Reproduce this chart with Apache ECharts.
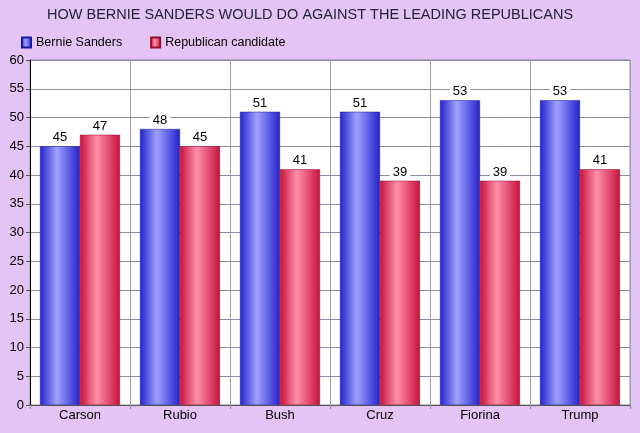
<!DOCTYPE html>
<html><head><meta charset="utf-8">
<script src="https://cdn.jsdelivr.net/npm/echarts@6/dist/echarts.min.js"></script>
<style>html,body{margin:0;padding:0;background:#E4C4F4;}#c{width:640px;height:433px;}</style>
</head><body><div id="c"></div>
<script>
const categories = ['Carson','Rubio','Bush','Cruz','Fiorina','Trump'];
const bernie = [45,48,51,51,53,53];
const republican = [47,45,41,39,39,41];
const yTicks = {min:0,max:60,interval:5};

function grad(dark, light){
  return new echarts.graphic.LinearGradient(0,0,1,0,[
    {offset:0,color:dark},{offset:0.42,color:light},{offset:1,color:dark}
  ]);
}
const chart = echarts.init(document.getElementById('c'));
const lbl = {show:true,position:'top',distance:2,color:'#000',fontFamily:'Arial, Liberation Sans',fontSize:13,backgroundColor:'#fff',padding:[0,3,0,3]};
chart.setOption({
  backgroundColor:'#E4C4F4',
  animation:false,
  title:{text:'HOW BERNIE SANDERS WOULD DO AGAINST THE LEADING REPUBLICANS',left:42,top:2,
    textStyle:{fontFamily:'Arial, Liberation Sans',fontWeight:'normal',fontSize:14.5,color:'#222238'}},
  legend:{left:16,top:31,itemWidth:9,itemHeight:10,itemGap:28,icon:'rect',
    textStyle:{fontFamily:'Arial, Liberation Sans',fontSize:12.5,color:'#000'},
    data:['Bernie Sanders','Republican candidate']},
  grid:{left:30,right:10,top:60,bottom:28,show:true,borderColor:'#8a8aa0',borderWidth:1,backgroundColor:'#fff'},
  xAxis:{type:'category',data:categories,
    axisLine:{lineStyle:{color:'#555',width:1}},
    axisTick:{show:true,length:4,lineStyle:{color:'#888'}},
    splitLine:{show:true,lineStyle:{color:'#a0a0b0'}},
    axisLabel:{color:'#000',fontFamily:'Arial, Liberation Sans',fontSize:13,margin:4}},
  yAxis:{type:'value',min:yTicks.min,max:yTicks.max,interval:yTicks.interval,
    axisLine:{show:true,lineStyle:{color:'#000'}},
    axisTick:{show:true,length:4,lineStyle:{color:'#555'}},
    splitLine:{lineStyle:{color:'#8a8aa0'}},
    axisLabel:{color:'#000',fontFamily:'Arial, Liberation Sans',fontSize:13,margin:6}},
  series:[
    {name:'Bernie Sanders',type:'bar',data:bernie,barGap:'0%',barCategoryGap:'20%',
      itemStyle:{color:grad('#2222cc','#a0a0ff'),borderColor:'#1a1aa0',borderWidth:0.5},label:lbl},
    {name:'Republican candidate',type:'bar',data:republican,
      itemStyle:{color:grad('#c8103c','#ff90aa'),borderColor:'#9a0a2a',borderWidth:0.5},label:lbl}
  ]
});
</script></body></html>
